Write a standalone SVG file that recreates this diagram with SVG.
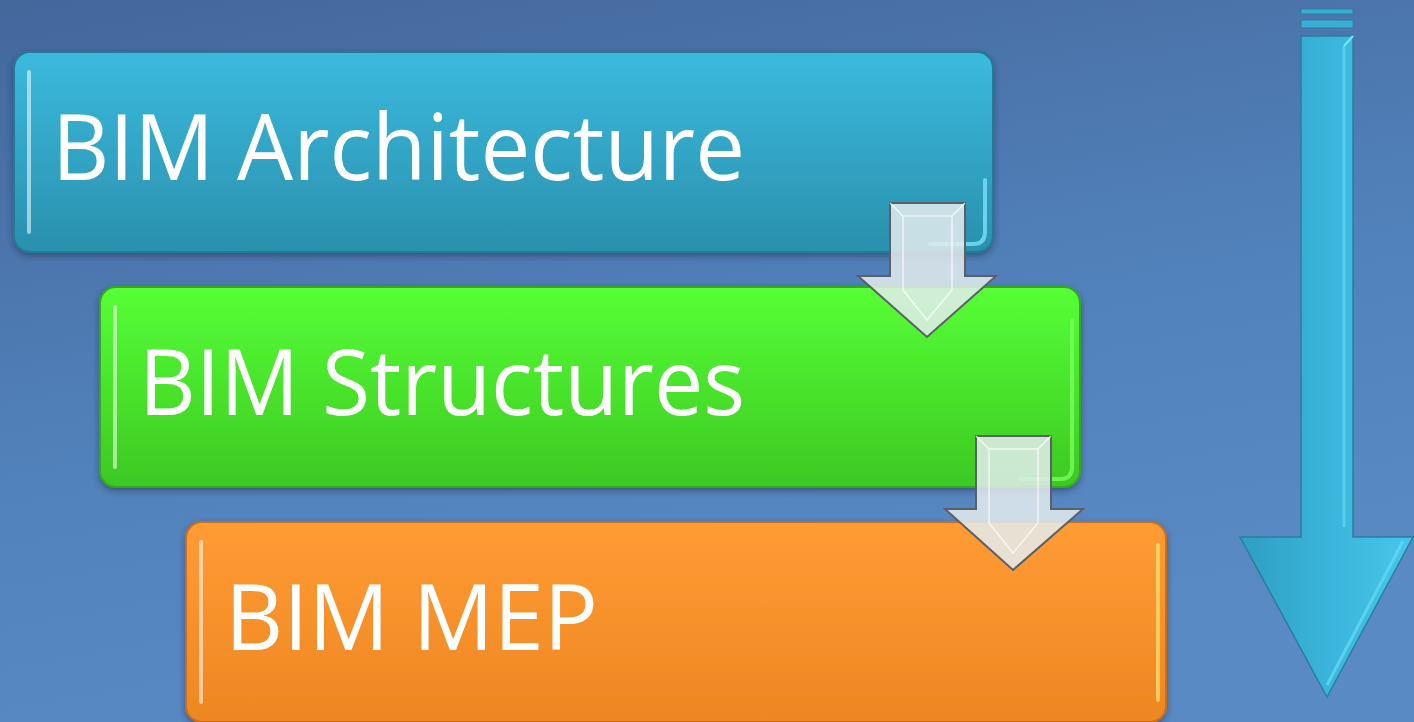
<svg xmlns="http://www.w3.org/2000/svg" width="1414" height="722" viewBox="0 0 1414 722">
<defs>
<linearGradient id="bg" x1="0" y1="0" x2="0.35" y2="1">
<stop offset="0" stop-color="#44679c"/>
<stop offset="0.6" stop-color="#5282bb"/>
<stop offset="1" stop-color="#5a8ac4"/>
</linearGradient>
<linearGradient id="gBlue" x1="0" y1="0" x2="0" y2="1">
<stop offset="0" stop-color="#3bbade"/>
<stop offset="1" stop-color="#2a90ad"/>
</linearGradient>
<linearGradient id="gGreen" x1="0" y1="0" x2="0" y2="1">
<stop offset="0" stop-color="#56ff35"/>
<stop offset="1" stop-color="#3dc824"/>
</linearGradient>
<linearGradient id="gOrange" x1="0" y1="0" x2="0" y2="1">
<stop offset="0" stop-color="#ff9c34"/>
<stop offset="1" stop-color="#ee8622"/>
</linearGradient>
<linearGradient id="gBig" x1="0" y1="0" x2="1" y2="0">
<stop offset="0" stop-color="#2f9ec2"/>
<stop offset="0.5" stop-color="#3ab4da"/>
<stop offset="1" stop-color="#48c6ea"/>
</linearGradient>
<filter id="sh" x="-5%" y="-10%" width="110%" height="125%">
<feDropShadow dx="0" dy="3" stdDeviation="3" flood-color="#1a2a40" flood-opacity="0.5"/>
</filter>
<style>
.box{filter:url(#sh)}
.lbl{font-family:"Open Sans","Liberation Sans",sans-serif;font-size:92px;fill:#ffffff}
.hl{fill:none;stroke:#ffffff;stroke-opacity:0.55;stroke-width:4;stroke-linecap:round}
.cor{fill:none;stroke-width:4;stroke-linecap:round;stroke-opacity:0.75}
.sarrow{fill:#e4ecee;fill-opacity:0.85;stroke:#5a6066;stroke-width:2}
.bev{fill:none;stroke:#ffffff;stroke-opacity:0.7;stroke-width:1.5}
</style>
</defs>
<rect x="0" y="0" width="1414" height="722" fill="url(#bg)"/>

<g id="node-architecture" class="box">
<rect x="14" y="52" width="979" height="200" rx="16" fill="url(#gBlue)" stroke="#237a94" stroke-width="2"/>
<path class="hl" d="M29 72 L29 232" stroke="#8ff0ff"/>
<path class="cor" d="M985 180 L985 232 Q985 244 973 244 L930 244" stroke="#7ee6ff"/>
<text class="lbl" x="52" y="180" textLength="693" lengthAdjust="spacingAndGlyphs">BIM Architecture</text>
</g>

<g id="node-structures" class="box">
<rect x="100" y="287" width="980" height="200" rx="16" fill="url(#gGreen)" stroke="#35a820" stroke-width="2"/>
<path class="hl" d="M115 307 L115 467"/>
<path class="cor" d="M1072 320 L1072 467 Q1072 479 1060 479 L1020 479" stroke="#7dff60"/>
<text class="lbl" x="139" y="415" textLength="606" lengthAdjust="spacingAndGlyphs">BIM Structures</text>
</g>

<g id="node-mep" class="box">
<rect x="186" y="522" width="980" height="200" rx="16" fill="url(#gOrange)" stroke="#c86e1a" stroke-width="2"/>
<path class="hl" d="M201 542 L201 702"/>
<path class="cor" d="M1158 545 L1158 700" stroke="#ffe070"/>
<text class="lbl" x="225" y="650" textLength="373" lengthAdjust="spacingAndGlyphs">BIM MEP</text>
</g>

<g id="connectors">
<g id="arrow-1">
<path class="sarrow" d="M890 203 L965 203 L965 276 L996 276 L927 337 L858 276 L890 276 Z"/>
<path class="bev" d="M890 203 L903 216 L952 216 L965 203 M903 216 L903 290 M952 216 L952 290 M903 290 L927 320 L952 290"/>
</g>
<g id="arrow-2">
<path class="sarrow" d="M976 436 L1051 436 L1051 509 L1083 509 L1013 570 L945 509 L976 509 Z"/>
<path class="bev" d="M976 436 L989 449 L1038 449 L1051 436 M989 449 L989 523 M1038 449 L1038 523 M989 523 L1013 553 L1038 523"/>
</g>
<g id="arrow-big">
<rect x="1301" y="9" width="52" height="5" fill="#38aed4" stroke="#2a7f9c" stroke-width="1"/>
<rect x="1301" y="20" width="52" height="8" fill="#38aed4" stroke="#2a7f9c" stroke-width="1"/>
<path d="M1301 36 L1353 36 L1353 537 L1413 537 L1327 697 L1240 537 L1301 537 Z" fill="url(#gBig)" stroke="#2a7f9c" stroke-width="1.5"/>
<path d="M1344 46 L1344 527" fill="none" stroke="#6adcf7" stroke-width="3" stroke-opacity="0.6"/>
<path d="M1353 36 L1344 46" stroke="#7ae4ff" stroke-width="2"/>
<path d="M1403 541 L1327 685" stroke="#5fd8f5" stroke-width="3" fill="none" stroke-opacity="0.8"/>
</g>
</g>
</svg>
